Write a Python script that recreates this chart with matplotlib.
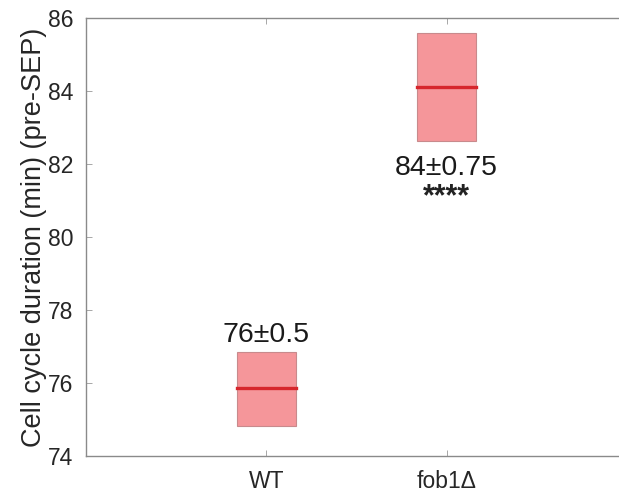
import numpy as np
import matplotlib.pyplot as plt
from matplotlib.patches import Rectangle

plt.rcParams['font.family'] = ['Liberation Sans', 'DejaVu Sans']

# data
strains = ['WT', 'fob1Δ']
box_low = [74.82, 82.64]
box_high = [76.86, 85.59]
medians = [75.87, 84.12]
labels = ['76±0.5', '84±0.75']
label_y = [77.12, 81.70]
stars = ['', '****']
stars_y = [None, 80.88]

fig = plt.figure(figsize=(6.19, 4.97), dpi=100)
# right edge of the box falls just outside the picture
ax = fig.add_axes([86 / 619, 1 - 456 / 497, 548 / 619, 438 / 497])

pos = np.arange(1, len(strains) + 1)
width = 0.33
for i, p in enumerate(pos):
    ax.add_patch(Rectangle((p - width / 2, box_low[i]), width, box_high[i] - box_low[i],
                           facecolor='#f5969a', edgecolor='#c88a8c', linewidth=0.8, zorder=2))
    ax.plot([p - width / 2, p + width / 2], [medians[i], medians[i]], color='#d6262c',
            linewidth=2.4, zorder=3)
    ax.text(p, label_y[i], labels[i], ha='center', va='baseline', fontsize=20.5, color='#1a1a1a')
    if stars[i]:
        ax.text(p, stars_y[i], stars[i], ha='center', va='baseline', fontsize=22,
                fontweight='bold', color='#222222')

ax.set_xlim(0, 3.04)
ax.set_ylim(74, 86)
ax.set_xticks(pos)
ax.set_xticklabels(strains)
ax.set_yticks(np.arange(74, 87, 2))
ax.tick_params(direction='in', length=4.3, width=0.6, colors='#999999', labelcolor='#262626',
               labelsize=16.5, top=True, right=True)
ax.tick_params(axis='y', pad=9)
ax.tick_params(axis='x', pad=10)
for s in ax.spines.values():
    s.set_color('#8a8a8a')
    s.set_linewidth(1.0)
ax.set_ylabel('Cell cycle duration (min) (pre-SEP)', fontsize=19.5, color='#262626', labelpad=1)

fig.savefig('out.png', dpi=100)
